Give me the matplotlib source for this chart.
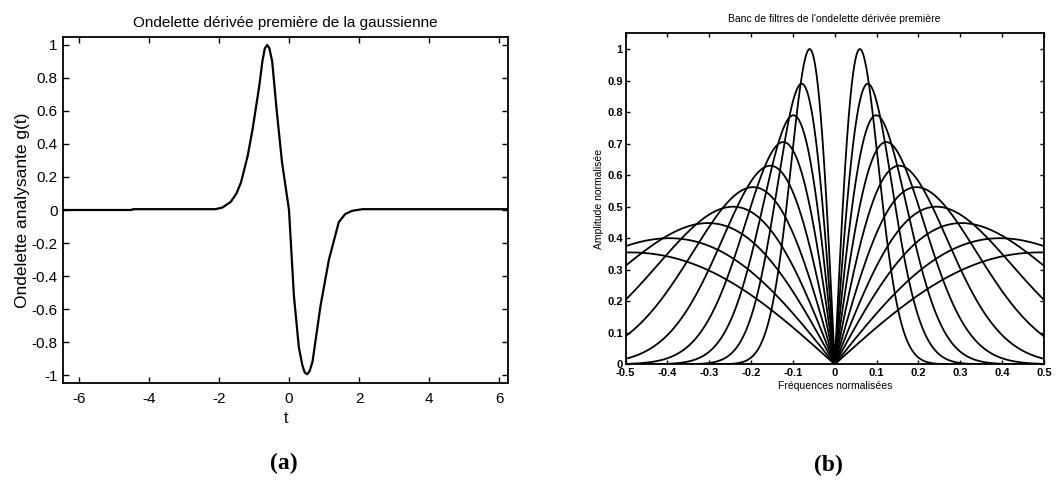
import numpy as np
import matplotlib
matplotlib.use("Agg")
import matplotlib.pyplot as plt
from matplotlib.ticker import FuncFormatter

plt.rcParams['font.family'] = ['Liberation Sans', 'DejaVu Sans']
plt.rcParams['axes.unicode_minus'] = False

# ---------------- data: panel (a) ----------------
t_vals = [-6.45, -4.5, -4.45, -2.1, -1.9, -1.66, -1.5, -1.37, -1.18, -1.04, -0.85,
          -0.76, -0.69, -0.62, -0.56, -0.48, -0.35, -0.2, 0.0, 0.14, 0.28, 0.38,
          0.45, 0.52, 0.59, 0.67, 0.9, 1.14, 1.42, 1.6, 1.8, 2.1, 6.25]
g_vals = [0.0, 0.0, 0.005, 0.005, 0.015, 0.05, 0.10, 0.167, 0.327, 0.488, 0.75,
          0.9, 0.98, 1.0, 0.98, 0.9, 0.6, 0.29, 0.0, -0.52, -0.83, -0.94,
          -0.985, -0.995, -0.975, -0.92, -0.58, -0.30, -0.074, -0.025, -0.005, 0.005, 0.005]
a_xticks = [-6, -4, -2, 0, 2, 4, 6]
a_yticks = [-1, -0.8, -0.6, -0.4, -0.2, 0, 0.2, 0.4, 0.6, 0.8, 1]

# ---------------- data: panel (b) (peak positions / heights) ----
peak_freq = [0.060, 0.079, 0.099, 0.123, 0.154, 0.195, 0.243, 0.303, 0.395, 0.49]
peak_amp = [1.0, 0.89, 0.79, 0.705, 0.63, 0.562, 0.50, 0.448, 0.40, 0.355]
b_xticks = [-0.5, -0.4, -0.3, -0.2, -0.1, 0, 0.1, 0.2, 0.3, 0.4, 0.5]
b_yticks = [0, 0.1, 0.2, 0.3, 0.4, 0.5, 0.6, 0.7, 0.8, 0.9, 1]

W, H = 1059, 483
fig = plt.figure(figsize=(W / 100, H / 100), dpi=100)

def style_axes(ax, tick_fs, ticklen, pad):
    ax.tick_params(direction='in', top=True, right=True, length=ticklen, width=1.0,
                   labelsize=tick_fs, pad=pad, colors='black')
    for s in ax.spines.values():
        s.set_linewidth(1.3)
        s.set_color('black')

fmt = FuncFormatter(lambda v, p: ('%g' % round(v, 2)))

# ---------------- panel (a) ----------------
axa = fig.add_axes([63 / W, 1 - 383.3 / H, (508 - 63) / W, (383.3 - 36.7) / H])
axa.plot(t_vals, g_vals, color='black', lw=1.6)
axa.set_xlim(-6.45, 6.25)
axa.set_ylim(-1.05, 1.05)
axa.set_xticks(a_xticks)
axa.set_yticks(a_yticks)
axa.yaxis.set_major_formatter(fmt)
style_axes(axa, 11, 4, 4)
axa.tick_params(axis='x', pad=6)
axa.set_title('Ondelette dérivée première de la gaussienne', fontsize=11, pad=7)
axa.set_xlabel('t', fontsize=11.5, labelpad=4)
axa.set_ylabel('Ondelette analysante g(t)', fontsize=12.5, labelpad=1)

# ---------------- panel (b) ----------------
axb = fig.add_axes([625.5 / W, 1 - 364.3 / H, (1044 - 625.5) / W, (364.3 - 33.3) / H])
f = np.linspace(-0.5, 0.5, 1201)
for f0, h in zip(peak_freq, peak_amp):
    r = np.abs(f) / f0
    axb.plot(f, h * r * np.exp((1 - r ** 2) / 2), color='black', lw=1.3)
axb.set_xlim(-0.5, 0.5)
axb.set_ylim(0, 1.05)
axb.set_xticks(b_xticks)
axb.set_yticks(b_yticks)
axb.xaxis.set_major_formatter(fmt)
axb.yaxis.set_major_formatter(fmt)
style_axes(axb, 8, 3, 2)
axb.tick_params(axis='x', pad=3)
for lab in axb.get_xticklabels() + axb.get_yticklabels():
    lab.set_fontweight('bold')
axb.set_title("Banc de filtres de l'ondelette dérivée première", fontsize=7.5, pad=8)
axb.set_xlabel('Fréquences normalisées', fontsize=7.5, labelpad=2)
axb.set_ylabel('Amplitude normalisée', fontsize=7.5, labelpad=2)

# ---------------- sub-figure labels ----------------
fig.text(284 / W, 1 - 463 / H, '(a)', ha='center', va='center',
         fontsize=17, fontweight='bold', family='Liberation Serif')
fig.text(828 / W, 1 - 465 / H, '(b)', ha='center', va='center',
         fontsize=17, fontweight='bold', family='Liberation Serif')

fig.savefig('out.png', dpi=100, facecolor='white')
